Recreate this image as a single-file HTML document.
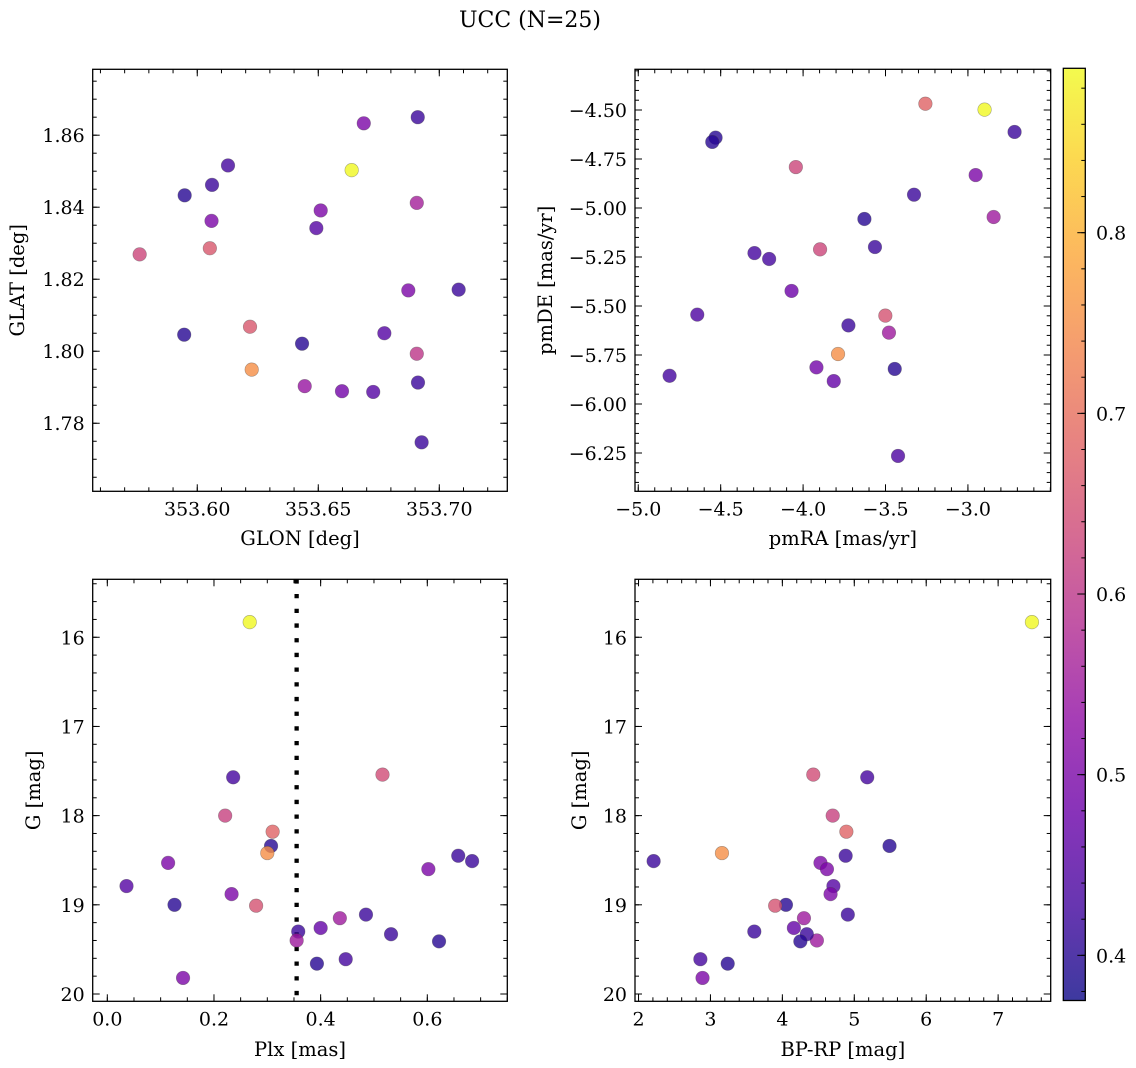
<!DOCTYPE html>
<html><head><meta charset="utf-8">
<style>
html,body{margin:0;padding:0;background:#fff;}
svg{display:block;font-family:"DejaVu Serif","Liberation Serif",serif;}
</style></head>
<body>
<svg id="fig" width="1136" height="1068" viewBox="0 0 1136 1068" xmlns="http://www.w3.org/2000/svg">
<defs>
<linearGradient id="plasma" x1="0" y1="1" x2="0" y2="0">
<stop offset="0" stop-color="#0d0887"/><stop offset="0.1" stop-color="#41049d"/><stop offset="0.2" stop-color="#6a00a8"/><stop offset="0.3" stop-color="#8f0da4"/><stop offset="0.4" stop-color="#b12a90"/><stop offset="0.5" stop-color="#cc4778"/><stop offset="0.6" stop-color="#e16462"/><stop offset="0.7" stop-color="#f2844b"/><stop offset="0.8" stop-color="#fca636"/><stop offset="0.9" stop-color="#fcce25"/><stop offset="1" stop-color="#f0f921"/>
</linearGradient>
</defs>
<text x="530" y="27" font-size="22" text-anchor="middle">UCC (N=25)</text>
</svg>
<script>
// ---- data ----
const glon = [353.6911,353.6688,353.6638,353.6127,353.6061,353.5948,353.6907,353.6510,353.6492,353.6059,353.6052,353.5762,353.6872,353.7080,353.5946,353.6218,353.6433,353.6773,353.6907,353.6225,353.6444,353.6598,353.6727,353.6912,353.6927];
const glat = [1.8650,1.8633,1.8503,1.8516,1.8462,1.8433,1.8412,1.8391,1.8342,1.8362,1.8286,1.8269,1.8169,1.8171,1.8046,1.8068,1.8021,1.8050,1.7993,1.7949,1.7903,1.7889,1.7887,1.7913,1.7747];
const cTL = [0.42,0.50,0.89,0.43,0.42,0.40,0.56,0.50,0.45,0.50,0.66,0.63,0.50,0.42,0.40,0.66,0.40,0.45,0.60,0.75,0.54,0.49,0.45,0.42,0.42];

const pmra = [-3.258,-2.899,-2.717,-4.531,-4.551,-4.044,-2.953,-3.327,-3.628,-2.844,-3.564,-3.897,-4.295,-4.206,-4.070,-4.642,-3.501,-3.479,-3.725,-3.788,-3.919,-3.814,-3.444,-4.810,-3.424];
const pmde = [-4.468,-4.498,-4.612,-4.641,-4.663,-4.791,-4.832,-4.932,-5.056,-5.046,-5.199,-5.211,-5.230,-5.260,-5.423,-5.544,-5.549,-5.636,-5.599,-5.745,-5.813,-5.883,-5.821,-5.856,-6.265];
const cTR = [0.68,0.89,0.42,0.40,0.40,0.63,0.50,0.42,0.40,0.55,0.42,0.63,0.43,0.43,0.48,0.44,0.65,0.55,0.42,0.75,0.49,0.47,0.40,0.43,0.44];

const gmag = [15.83,17.57,17.54,18.00,18.18,18.34,18.42,18.53,18.79,18.88,19.00,19.01,18.60,18.45,18.51,19.30,19.40,19.26,19.15,19.11,19.33,19.41,19.66,19.61,19.82];
const plx  = [0.267,0.236,0.516,0.221,0.310,0.307,0.300,0.114,0.036,0.233,0.126,0.279,0.602,0.658,0.684,0.358,0.355,0.400,0.436,0.485,0.532,0.622,0.393,0.447,0.142];
const bprp = [7.47,5.18,4.43,4.70,4.89,5.49,3.16,4.53,4.71,4.67,4.05,3.90,4.62,4.88,2.21,3.61,4.48,4.16,4.30,4.91,4.34,4.25,3.24,2.86,2.89];
const cG   = [0.89,0.43,0.64,0.62,0.68,0.40,0.75,0.50,0.45,0.50,0.40,0.65,0.50,0.42,0.42,0.42,0.55,0.47,0.55,0.42,0.42,0.40,0.40,0.43,0.50];
const plxLine = [0.355];

const tlXTicks = [353.60,353.65,353.70];
const tlYTicks = [1.78,1.80,1.82,1.84,1.86];
const trXTicks = [-5.0,-4.5,-4.0,-3.5,-3.0];
const trYTicks = [-6.25,-6.0,-5.75,-5.5,-5.25,-5.0,-4.75,-4.5];
const blXTicks = [0.0,0.2,0.4,0.6];
const gTicks = [16,17,18,19,20];
const brXTicks = [2,3,4,5,6,7];
const cbTicks = [0.4,0.5,0.6,0.7,0.8];
const cbRange = [0.375,0.891];

// ---- helpers ----
const NS='http://www.w3.org/2000/svg';
const svg=document.getElementById('fig');
function mk(tag,attrs,parent){const e=document.createElementNS(NS,tag);for(const k in attrs)e.setAttribute(k,attrs[k]);(parent||svg).appendChild(e);return e;}
const stops=[[0,[13,8,135]],[0.1,[65,4,157]],[0.2,[106,0,168]],[0.3,[143,13,164]],[0.4,[177,42,144]],[0.5,[204,71,120]],[0.6,[225,100,98]],[0.7,[242,132,75]],[0.8,[252,166,54]],[0.9,[252,206,37]],[1,[240,249,33]]];
function plasma(t){t=Math.max(0,Math.min(1,t));for(let i=1;i<stops.length;i++){if(t<=stops[i][0]){const a=stops[i-1],b=stops[i];const f=(t-a[0])/(b[0]-a[0]);const c=a[1].map((v,j)=>Math.round(v+(b[1][j]-v)*f));return `rgb(${c[0]},${c[1]},${c[2]})`;}}return 'rgb(240,249,33)';}
function cmap(v){return plasma((v-cbRange[0])/(cbRange[1]-cbRange[0]));}
function fmt(v,d){const s=Math.abs(v).toFixed(d);return (v<0?'\u2212':'')+s;}

const TF=19, LF=19.5;
function panel(cfg){
  const [L,T,R,B]=cfg.box;
  const g=mk('g',{});
  
  
  const sx=v=>L+(v-cfg.xd[0])/(cfg.xd[1]-cfg.xd[0])*(R-L);
  const sy=v=>B-(v-cfg.yd[0])/(cfg.yd[1]-cfg.yd[0])*(B-T);
  const tg=mk('g',{stroke:'#000','stroke-width':1},g);
  function ticksX(vals,len){vals.forEach(v=>{const x=sx(v);if(x<L-0.1||x>R+0.1)return;mk('line',{x1:x,y1:B,x2:x,y2:B-len},tg);mk('line',{x1:x,y1:T,x2:x,y2:T+len},tg);});}
  function ticksY(vals,len){vals.forEach(v=>{const y=sy(v);if(y<T-0.1||y>B+0.1)return;mk('line',{x1:L,y1:y,x2:L+len,y2:y},tg);mk('line',{x1:R,y1:y,x2:R-len,y2:y},tg);});}
  const minX=[],minY=[];
  const xlo=Math.min(...cfg.xd),xhi=Math.max(...cfg.xd),ylo=Math.min(...cfg.yd),yhi=Math.max(...cfg.yd);
  for(let k=Math.ceil(xlo/cfg.xm);k*cfg.xm<=xhi;k++)minX.push(k*cfg.xm);
  for(let k=Math.ceil(ylo/cfg.ym);k*cfg.ym<=yhi;k++)minY.push(k*cfg.ym);
  ticksX(minX,4);ticksY(minY,4);ticksX(cfg.xt,7);ticksY(cfg.yt,7);
  cfg.xt.forEach(v=>{const t=mk('text',{x:sx(v),y:B+24,'font-size':TF,'text-anchor':'middle'},g);t.textContent=fmt(v,cfg.xdp);
    
    });
  cfg.yt.forEach(v=>{const t=mk('text',{x:L-8,y:sy(v)+7,'font-size':TF,'text-anchor':'end'},g);t.textContent=fmt(v,cfg.ydp);
    
    });
  const xl=mk('text',{x:(L+R)/2,y:cfg.xly,'font-size':LF,'text-anchor':'middle'},g);xl.textContent=cfg.xl;
  
  
  const yl=mk('text',{x:0,y:0,'font-size':LF,'text-anchor':'middle',transform:`translate(${cfg.ylx},${(T+B)/2}) rotate(-90)`},g);yl.textContent=cfg.yl;
  
  
  if(cfg.vline){cfg.vline.forEach(v=>{const ln=mk('line',{x1:sx(v),y1:T,x2:sx(v),y2:B,stroke:'#000','stroke-width':4.3,'stroke-dasharray':'4.3 10.4'},g);
    
    });}
  const pg=mk('g',{},g);
  cfg.xs.forEach((xv,i)=>{const c=mk('circle',{cx:sx(xv),cy:sy(cfg.ys[i]),r:6.8,fill:cmap(cfg.cs[i]),'fill-opacity':0.8,stroke:'#444','stroke-opacity':0.45,'stroke-width':0.6},pg);
    
    });
  const fr=mk('rect',{x:L,y:T,width:R-L,height:B-T,fill:'none',stroke:'#000','stroke-width':1.3},g);
  
  
}

panel({name:'panel-glon-glat',box:[92.7,69.3,507.3,491.3],xd:[353.5568,353.7281],yd:[1.7611,1.8783],xt:tlXTicks,yt:tlYTicks,xm:0.01,ym:0.005,xdp:2,ydp:2,xs:glon,ys:glat,cs:cTL,xl:'GLON [deg]',yl:'GLAT [deg]',xly:545,ylx:24});
panel({name:'panel-pmra-pmde',box:[635,69.3,1050.7,491.3],xd:[-5.0198,-2.4978],yd:[-6.4454,-4.2923],xt:trXTicks,yt:trYTicks,xm:0.1,ym:0.05,xdp:1,ydp:2,xs:pmra,ys:pmde,cs:cTR,xl:'pmRA [mas/yr]',yl:'pmDE [mas/yr]',xly:545,ylx:552});
panel({name:'panel-plx-g',box:[92.7,579.3,507.3,1001.3],xd:[-0.0274,0.750],yd:[20.082,15.350],xt:blXTicks,yt:gTicks,xm:0.05,ym:0.2,xdp:1,ydp:0,xs:plx,ys:gmag,cs:cG,xl:'Plx [mas]',yl:'G [mag]',xly:1056,ylx:40,vline:plxLine});
panel({name:'panel-bprp-g',box:[635,579.3,1050.7,1001.3],xd:[1.951,7.731],yd:[20.082,15.350],xt:brXTicks,yt:gTicks,xm:0.2,ym:0.2,xdp:0,ydp:0,xs:bprp,ys:gmag,cs:cG,xl:'BP-RP [mag]',yl:'G [mag]',xly:1056,ylx:586});

// colorbar
const cb=mk('g',{});


const cT=68.3,cB=1000.5,cL=1063.3,cR=1085.3;
const cy=v=>cB-(v-cbRange[0])/(cbRange[1]-cbRange[0])*(cB-cT);
mk('rect',{x:cL,y:cT,width:cR-cL,height:cB-cT,fill:'url(#plasma)','fill-opacity':0.8},cb);
for(let k=Math.ceil(cbRange[0]/0.02);k*0.02<=cbRange[1];k++){const y=cy(k*0.02);mk('line',{x1:cR,y1:y,x2:cR-4,y2:y,stroke:'#000','stroke-width':1},cb);}
cbTicks.forEach(v=>{const y=cy(v);mk('line',{x1:cR,y1:y,x2:cR-8,y2:y,stroke:'#000','stroke-width':1},cb);
  const t=mk('text',{x:1096,y:y+7,'font-size':TF},cb);t.textContent=v.toFixed(1);
  
  });
mk('rect',{x:cL,y:cT,width:cR-cL,height:cB-cT,fill:'none',stroke:'#000','stroke-width':1.3},cb);
</script>
</body></html>
